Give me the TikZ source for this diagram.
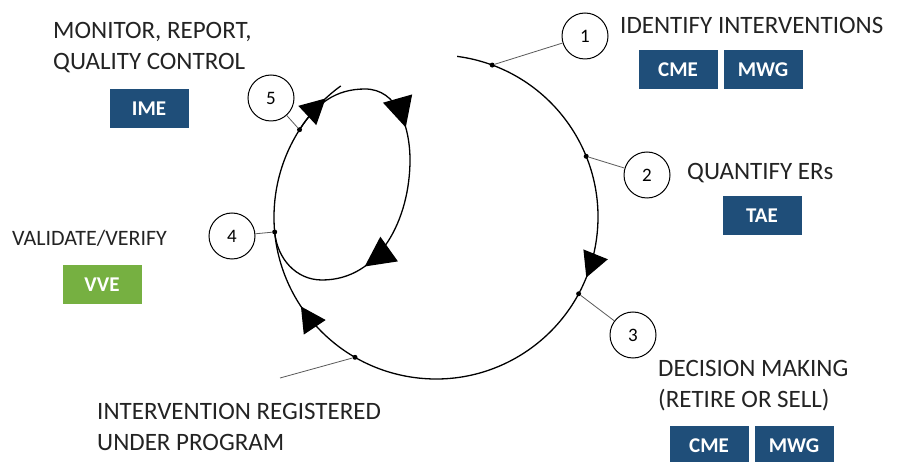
\documentclass[tikz,border=0pt]{standalone}
\usepackage{fontspec}
\setmainfont{Carlito}
\usetikzlibrary{arrows.meta, decorations.markings}
\definecolor{boxblue}{RGB}{31,78,121}
\definecolor{boxgreen}{RGB}{118,176,65}
\definecolor{labelgray}{RGB}{35,35,35}

\begin{document}
\begin{tikzpicture}[x=1pt, y=1pt,
    num/.style={circle, draw, line width=1pt, minimum size=46pt, inner sep=0pt, font=\fontsize{19}{19}\selectfont},
    tag/.style={rectangle, fill=boxblue, text=white, minimum width=79pt, minimum height=39pt, inner sep=0pt, font=\fontsize{21}{21}\selectfont\bfseries},
    stage/.style={anchor=west, align=left, text=labelgray, inner sep=0pt, font=\fontsize{25}{31}\selectfont},
    dot/.style={circle, fill, inner sep=0pt, minimum size=5pt},
    lead/.style={draw=black!65, line width=0.8pt},
    cycleline/.style={line width=1.3pt},
    bigtip/.tip={Triangle[length=25pt, width=26pt]},
    looptip/.tip={Triangle[length=30pt, width=30pt]},
  ]
  \useasboundingbox (0,0) rectangle (903,-462);

  % the cycle and the inner loop
  \begin{scope}[shift={(436,-217)}]
    \draw[cycleline, postaction={decorate}, decoration={markings,
        mark=at position 0.33 with {\arrow{bigtip}},
        mark=at position 0.7235 with {\arrow{bigtip}},
        mark=at position 0.978 with {\arrow{bigtip}}}]
      (82.5:162) arc[start angle=82.5, end angle=-234, radius=162];
    \draw[cycleline, postaction={decorate}, decoration={markings,
        mark=at position 0.34 with {\arrow{looptip}},
        mark=at position 0.71 with {\arrow{looptip}}}]
      (147:162) to[out=57, in=180] (-71,128) to[out=0, in=90] (-26,57)
      to[out=-90, in=0] (-114,-63) to[out=180, in=-85] (185.3:162);

    \node (d1) [dot] at (69.7:162) {};
    \node (d2) [dot] at (22:162) {};
    \node (d3) [dot] at (-28.3:162) {};
    \node (d4) [dot] at (185.3:162) {};
    \node (d5) [dot] at (147.4:162) {};
    \node (d6) [dot] at (-120:162) {};
  \end{scope}

  \node (n1) [num] at (585,-36) {1};
  \node (n2) [num] at (647,-175) {2};
  \node (n3) [num] at (633,-335) {3};
  \node (n4) [num] at (232,-236) {4};
  \node (n5) [num] at (271,-98) {5};
  \coordinate (reg) at (280,-378);

  \draw[lead] (n1) -- (d1);
  \draw[lead] (n2) -- (d2);
  \draw[lead] (n3) -- (d3);
  \draw[lead] (n4) -- (d4);
  \draw[lead] (n5) -- (d5);
  \draw[lead] (d6) -- (reg);

  % stage texts
  \node (identify) [stage] at (620,-25) {IDENTIFY INTERVENTIONS};
  \node (quantify) [stage] at (687,-173) {QUANTIFY ERs};
  \node (decide) [stage] at (658,-386) {DECISION MAKING\\(RETIRE OR SELL)};
  \node (monitor) [stage] at (53,-48) {MONITOR, REPORT,\\QUALITY CONTROL};
  \node (validate) [stage, font=\fontsize{22}{31}\selectfont] at (12,-238) {VALIDATE/VERIFY};
  \node (register) [stage] at (97,-427) {INTERVENTION REGISTERED\\UNDER PROGRAM};

  % bodies
  \node (cmeA) [tag] at (678,-70) {CME};
  \node (mwgA) [tag] at (763,-70) {MWG};
  \node (tae) [tag] at (762,-216) {TAE};
  \node (ime) [tag] at (149,-109) {IME};
  \node (vve) [tag, fill=boxgreen] at (102,-285) {VVE};
  \node (cmeB) [tag] at (709,-446) {CME};
  \node (mwgB) [tag] at (794,-446) {MWG};
\end{tikzpicture}
\end{document}
